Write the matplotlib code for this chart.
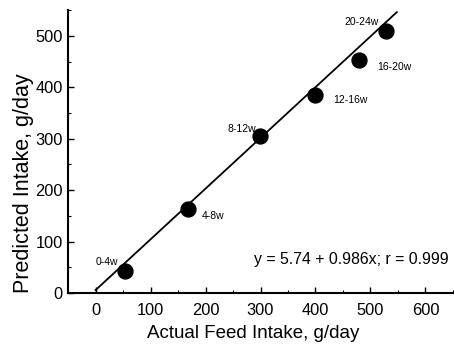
import matplotlib.pyplot as plt
import numpy as np

plt.rcParams['font.family'] = ['Liberation Sans', 'DejaVu Sans']

# data
periods = ['0-4w', '4-8w', '8-12w', '12-16w', '16-20w', '20-24w']
actual = [53, 168, 299, 399, 479, 528]
predicted = [43, 163, 306, 384, 453, 510]
intercept = 5.74
slope = 0.986
label_offsets = [(-5, 6.5), (10, -5), (-3, 4.5), (13, -3), (13, -5), (-5, 6)]

fig = plt.figure(figsize=(4.54, 3.48), dpi=100)
ax = fig.add_axes([0.150, 0.158, 0.850, 0.813])

xl = np.array([0, 548])
ax.plot(xl, intercept + slope * xl, color='black', lw=1.3, zorder=2)
ax.scatter(actual, predicted, s=115, color='black', zorder=3)

for p, x, y, off in zip(periods, actual, predicted, label_offsets):
    ha = 'right' if off[0] < 0 else 'left'
    ax.annotate(p, (x, y), xytext=off, textcoords='offset points',
                ha=ha, va='center', fontsize=7.5)

ax.text(0.987, 0.117, 'y = 5.74 + 0.986x; r = 0.999', transform=ax.transAxes,
        ha='right', va='center', fontsize=11.4)

ax.set_xlim(-50, 652)
ax.set_ylim(0, 550)
ax.set_xticks(np.arange(0, 700, 100))
ax.set_yticks(np.arange(0, 600, 100))
ax.set_xticks(np.arange(-50, 651, 50), minor=True)
ax.set_yticks(np.arange(50, 551, 50), minor=True)
ax.tick_params(direction='in', length=4, width=1, labelsize=11.8)
ax.tick_params(axis='x', pad=7)
ax.tick_params(axis='y', pad=4)
ax.tick_params(which='minor', direction='in', length=2, width=0.8)

ax.spines['top'].set_visible(False)
ax.spines['right'].set_visible(False)
ax.spines['left'].set_linewidth(1.5)
ax.spines['bottom'].set_linewidth(1.5)

ax.set_xlabel('Actual Feed Intake, g/day', fontsize=13.5)
ax.set_ylabel('Predicted Intake, g/day', fontsize=15.5)
ax.xaxis.set_label_coords(0.479, -0.112)
ax.yaxis.set_label_coords(-0.088, 0.389)

fig.savefig('out.png', dpi=100)
